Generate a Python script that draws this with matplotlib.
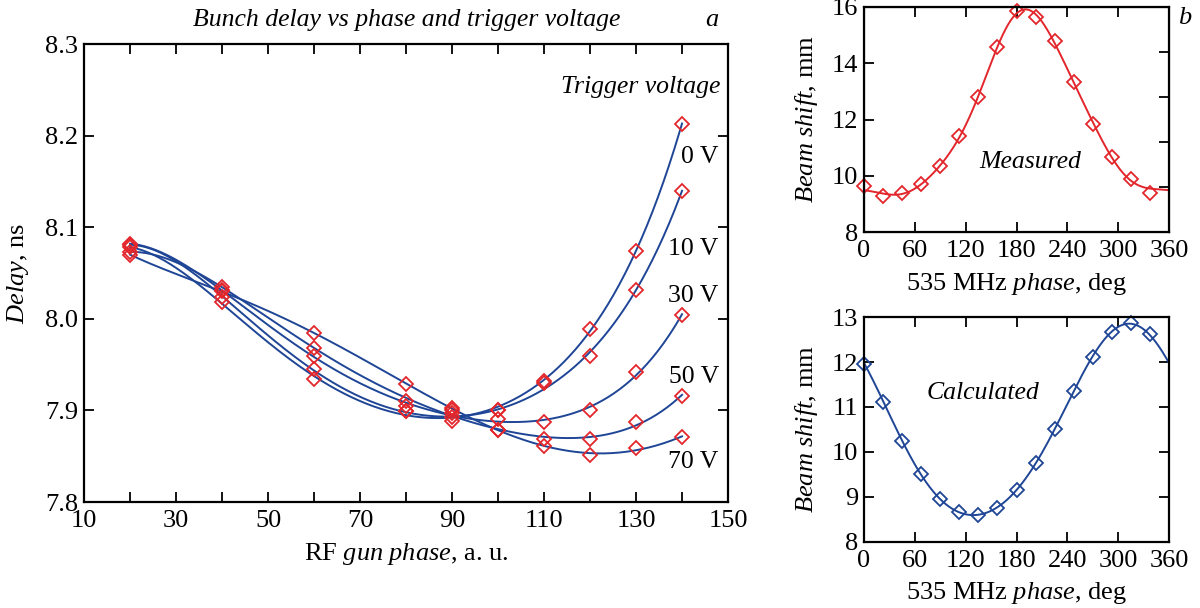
import numpy as np
import matplotlib
matplotlib.use("Agg")
import matplotlib.pyplot as plt

plt.rcParams['font.family'] = ['Liberation Serif', 'DejaVu Serif']
plt.rcParams['mathtext.fontset'] = 'custom'
plt.rcParams['mathtext.rm'] = 'Liberation Serif'
plt.rcParams['mathtext.it'] = 'Liberation Serif:italic'

# ---- panel a: delay vs RF gun phase ----
gun_phase = [20, 40, 60, 80, 90, 100, 110, 120, 130, 140]
delay_0v = [8.078, 8.018, 7.934, 7.899, 7.893, 7.901, 7.932, 7.989, 8.074, 8.213]
delay_10v = [8.081, 8.024, 7.945, 7.899, 7.889, 7.901, 7.930, 7.959, 8.032, 8.140]
delay_30v = [8.082, 8.031, 7.959, 7.905, 7.897, 7.891, 7.887, 7.901, 7.942, 8.004]
delay_50v = [8.073, 8.035, 7.968, 7.910, 7.900, 7.879, 7.869, 7.869, 7.887, 7.916]
delay_70v = [8.070, 8.030, 7.984, 7.929, 7.903, 7.879, 7.861, 7.851, 7.859, 7.871]
volt_names = ["0 V", "10 V", "30 V", "50 V", "70 V"]
volt_label_y = [8.177, 8.076, 8.025, 7.936, 7.844]

# ---- panel b: beam shift vs 535 MHz phase ----
phase_535 = [0, 22.5, 45, 67.5, 90, 112.5, 135, 157.5, 180, 202.5, 225, 247.5,
             270, 292.5, 315, 337.5]
shift_measured = [9.64, 9.27, 9.39, 9.70, 10.35, 11.41, 12.80, 14.58, 15.85, 15.63,
                  14.78, 13.35, 11.83, 10.68, 9.90, 9.39]
shift_calculated = [11.96, 11.11, 10.25, 9.50, 8.96, 8.67, 8.59, 8.76, 9.15, 9.76,
                    10.52, 11.35, 12.11, 12.66, 12.87, 12.63]

RED = '#e3262b'
BLUE = '#1f4696'
FS = 19


def fourier_fit(x, y, nharm, xs):
    # least squares fit of a periodic series (period 360)
    x = np.radians(np.asarray(x))
    xs_r = np.radians(xs)
    cols = [np.ones_like(x)]
    cols_s = [np.ones_like(xs_r)]
    for k in range(1, nharm + 1):
        cols += [np.cos(k * x), np.sin(k * x)]
        cols_s += [np.cos(k * xs_r), np.sin(k * xs_r)]
    coef, *_ = np.linalg.lstsq(np.column_stack(cols), np.asarray(y), rcond=None)
    return np.column_stack(cols_s) @ coef


def style(ax):
    for s in ax.spines.values():
        s.set_linewidth(1.6)
    ax.tick_params(direction='in', length=7, width=1.3, labelsize=FS,
                   top=True, right=True)
    ax.tick_params(axis='x', pad=6)
    ax.tick_params(axis='y', pad=4)


fig = plt.figure(figsize=(12, 6.08), dpi=100)

ax = fig.add_axes([0.07, 0.1743, 0.5367, 0.7533])
xs = np.linspace(20, 140, 300)
for d in [delay_0v, delay_10v, delay_30v, delay_50v, delay_70v]:
    p = np.polyfit(gun_phase, d, 5)
    ax.plot(xs, np.polyval(p, xs), color=BLUE, lw=1.4, zorder=2)
for d in [delay_0v, delay_10v, delay_30v, delay_50v, delay_70v]:
    ax.plot(gun_phase, d, 'D', ms=7.5, mfc='none', mec=RED, mew=1.3, zorder=3)
ax.set_xlim(10, 150)
ax.set_ylim(7.8, 8.3)
ax.set_xticks(np.arange(10, 151, 10))
ax.set_xticklabels([str(v) if (v - 10) % 20 == 0 else '' for v in range(10, 151, 10)])
ax.set_yticks([7.8, 7.9, 8.0, 8.1, 8.2, 8.3])
ax.set_yticklabels(['7.8', '7.9', '8.0', '8.1', '8.2', '8.3'])
style(ax)
ax.set_xlabel(r'RF $\mathit{gun\ phase}$, a. u.', fontsize=FS)
ax.set_ylabel(r'$\mathit{Delay}$, ns', fontsize=FS)
ax.xaxis.set_label_coords(0.5, -0.085)
ax.yaxis.set_label_coords(-0.082, 0.5)
ax.text(148.3, 8.253, 'Trigger voltage', style='italic', fontsize=18.5,
        ha='right', va='center')
for name, yy in zip(volt_names, volt_label_y):
    ax.text(148, yy, name, fontsize=18.5, ha='right', va='center')
fig.text(0.339, 0.967, 'Bunch delay vs phase and trigger voltage',
         style='italic', fontsize=18.5, ha='center', va='center')
fig.text(0.593, 0.967, 'a', style='italic', fontsize=19, ha='center', va='center')
fig.text(0.9875, 0.970, 'b', style='italic', fontsize=19, ha='center', va='center')

# measured
ax1 = fig.add_axes([0.72, 0.6184, 0.2542, 0.3701])
ps = np.linspace(0, 360, 400)
ax1.plot(ps, fourier_fit(phase_535, shift_measured, 4, ps), color=RED, lw=1.4)
ax1.plot(phase_535, shift_measured, 'D', ms=7.5, mfc='none', mec=RED, mew=1.3,
         clip_on=False)
ax1.set_xlim(0, 360)
ax1.set_ylim(8, 16)
ax1.set_xticks(range(0, 361, 60))
ax1.set_yticks(range(8, 17, 2))
style(ax1)
ax1.tick_params(right=False)
ax1r = ax1.twinx()
ax1r.set_ylim(8, 16)
ax1r.set_yticks(np.linspace(8, 16, 6))
ax1r.tick_params(direction='in', length=7, width=1.3, labelright=False)
ax1.set_xlabel(r'535 MHz $\mathit{phase}$, deg', fontsize=FS)
ax1.set_ylabel(r'$\mathit{Beam\ shift}$, mm', fontsize=FS)
ax1.xaxis.set_label_coords(0.5, -0.173)
ax1.yaxis.set_label_coords(-0.144, 0.5)
ax1.text(196, 10.49, 'Measured', style='italic', fontsize=18.5, ha='center', va='center')

# calculated
ax2 = fig.add_axes([0.72, 0.1086, 0.2542, 0.37])
ax2.plot(ps, fourier_fit(phase_535, shift_calculated, 2, ps), color=BLUE, lw=1.4)
ax2.plot(phase_535, shift_calculated, 'D', ms=7.5, mfc='none', mec=BLUE, mew=1.3,
         clip_on=False)
ax2.set_xlim(0, 360)
ax2.set_ylim(8, 13)
ax2.set_xticks(range(0, 361, 60))
ax2.set_yticks(range(8, 14))
style(ax2)
ax2.set_xlabel(r'535 MHz $\mathit{phase}$, deg', fontsize=FS)
ax2.set_ylabel(r'$\mathit{Beam\ shift}$, mm', fontsize=FS)
ax2.xaxis.set_label_coords(0.5, -0.169)
ax2.yaxis.set_label_coords(-0.144, 0.5)
ax2.text(140.5, 11.31, 'Calculated', style='italic', fontsize=18.5, ha='center', va='center')

fig.savefig('out.png', dpi=100)
